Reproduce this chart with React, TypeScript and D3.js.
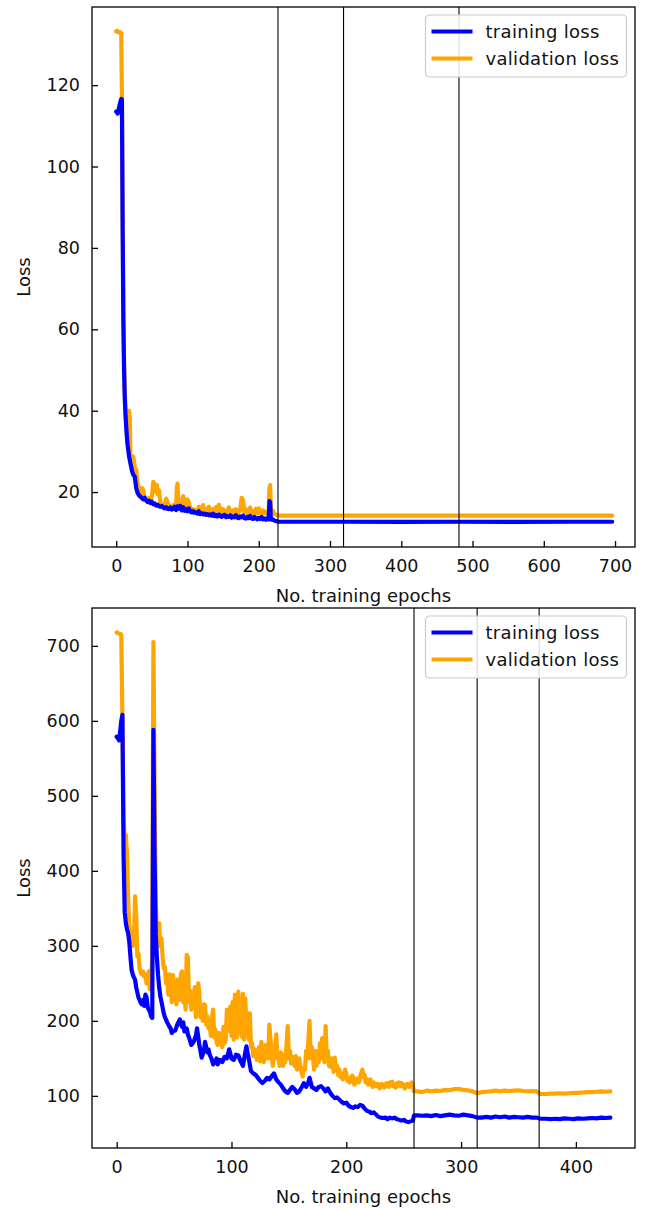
import React, { useRef, useEffect } from 'react';
import * as d3 from 'd3';

type Pt = [number, number];

// [epoch, loss]
const topTrain: Pt[] = [
  [0, 113.5], [1, 113.4], [2, 113.0], [3, 113.6], [4, 114.5], [5, 115.3], [6, 116.0], [7, 116.6], [8, 116.5],
  [9, 85], [10, 62], [11, 50], [12, 43], [13, 39], [14, 36], [15, 33.5], [16, 31.5], [18, 28.8], [20, 27],
  [22, 25.3], [24, 24.2], [26, 23.8], [27, 22.5], [28, 21.0], [30, 19.8], [32, 19.2], [34, 18.9], [36, 18.5],
  [38, 18.2], [40, 18.6], [42, 17.9], [44, 17.6], [46, 17.9], [48, 17.3], [50, 17.6], [52, 17.0], [54, 17.2],
  [56, 16.7], [58, 16.9], [60, 16.5], [62, 16.4], [64, 16.6], [66, 16.2], [68, 16.0], [70, 16.3], [72, 15.9],
  [74, 15.8], [76, 16.2], [78, 15.7], [80, 15.9], [82, 16.4], [84, 15.6], [86, 16.5], [88, 15.9], [90, 16.6],
  [92, 15.5], [94, 16.3], [96, 15.4], [98, 15.8], [100, 15.3], [102, 16.0], [104, 15.2], [106, 15.0], [108, 15.3],
  [110, 14.9], [112, 15.0], [114, 14.7], [116, 15.3], [118, 14.6], [120, 14.8], [122, 14.5], [124, 14.7],
  [126, 14.4], [128, 14.6], [130, 14.3], [132, 14.5], [134, 14.2], [136, 14.7], [138, 14.1], [140, 14.4],
  [142, 14.0], [144, 14.5], [146, 14.1], [148, 13.9], [150, 14.2], [152, 14.4], [154, 13.8], [156, 14.1],
  [158, 13.9], [160, 14.3], [162, 13.7], [164, 14.0], [166, 13.8], [168, 14.3], [170, 13.7], [172, 13.6],
  [174, 14.0], [176, 13.8], [178, 14.2], [180, 13.6], [182, 13.5], [184, 13.9], [186, 13.6], [188, 14.1],
  [190, 13.5], [192, 13.4], [194, 13.9], [196, 13.5], [198, 13.3], [200, 13.7], [202, 13.4], [204, 13.9],
  [206, 13.3], [208, 13.5], [210, 13.2], [212, 13.6], [214, 13.3], [215, 17.8], [216, 17.5], [217, 13.6],
  [218, 13.2], [220, 13.3], [222, 13.0], [224, 12.9], [226, 12.8], [228, 12.7], [260, 12.7], [320, 12.7],
  [400, 12.65], [480, 12.7], [560, 12.65], [640, 12.7], [696, 12.7],
];

const topVal: Pt[] = [
  [0, 133.2], [1, 133.4], [2, 133.1], [3, 133.0], [4, 133.0], [5, 133.1], [6, 132.9], [7, 132.8], [8, 117],
  [9, 90], [10, 65], [11, 52], [12, 45], [13, 40], [14, 37], [15, 34], [16, 32], [17, 34], [18, 40], [19, 38],
  [20, 28], [22, 26.5], [24, 28.7], [26, 25.9], [28, 25.5], [30, 22], [32, 20], [34, 19.5], [36, 21], [38, 20.5],
  [40, 18.5], [42, 18], [44, 17.5], [46, 18.5], [48, 17.2], [50, 19], [52, 22.5], [53, 20.5], [54, 22], [56, 20],
  [57, 21.7], [58, 19.5], [60, 20.5], [62, 17.5], [64, 16.5], [66, 16.2], [68, 17.0], [70, 18.4], [72, 17.5],
  [74, 16.0], [76, 16.5], [78, 16.2], [80, 16.8], [82, 16.0], [84, 16.3], [85, 21.0], [86, 22.1], [87, 18],
  [88, 16.5], [90, 17.2], [92, 16.8], [94, 19], [96, 17.4], [98, 16.5], [100, 18.2], [102, 17.3], [104, 16.0],
  [106, 15.6], [108, 15.8], [110, 15.4], [112, 15.6], [114, 15.2], [116, 16.4], [118, 15.3], [120, 15.5],
  [122, 16.8], [124, 15.0], [126, 15.8], [128, 15.2], [130, 16.4], [132, 15.3], [134, 15.0], [136, 15.8],
  [138, 15.1], [140, 16.3], [142, 15.5], [144, 16.9], [146, 15.6], [148, 15.0], [150, 15.8], [152, 15.4],
  [154, 14.8], [156, 15.3], [158, 16.2], [160, 15.0], [162, 14.7], [164, 15.5], [166, 14.8], [168, 15.8],
  [170, 14.6], [172, 15.1], [174, 15.6], [176, 18.6], [178, 18.0], [180, 15.0], [182, 15.8], [184, 14.7],
  [186, 15.5], [188, 16.2], [190, 14.8], [192, 15.3], [194, 14.6], [196, 15.9], [198, 14.8], [200, 16.0],
  [202, 15.2], [204, 14.6], [206, 15.5], [208, 14.8], [210, 15.1], [212, 14.5], [214, 15.0], [215, 21.0],
  [216, 21.7], [217, 16.0], [218, 15.2], [220, 15.4], [222, 14.6], [224, 14.5], [226, 14.3], [228, 14.2],
  [260, 14.2], [320, 14.2], [400, 14.2], [480, 14.2], [560, 14.2], [640, 14.2], [696, 14.2],
];

// [epoch, loss]
const bottomTrain: Pt[] = [
  [0, 579], [1, 577], [2, 574], [3, 585], [4, 600], [5, 608], [6, 420], [7, 345], [8, 330], [9, 322], [10, 317],
  [11, 305], [12, 285], [13, 268], [14, 262], [15, 258], [16, 255], [17, 245], [18, 238], [19, 231], [20, 228],
  [21, 224], [22, 222], [23, 228], [24, 220], [25, 235], [26, 232], [27, 218], [28, 215], [29, 212], [30, 206],
  [31, 204], [32, 588], [33, 420], [34, 317], [35, 285], [36, 262], [37, 245], [38, 233], [40, 218], [41, 210],
  [42, 205], [44, 198], [45, 195], [46, 192], [47, 190], [48, 184], [49, 186], [51, 187], [53, 196], [55, 202],
  [56, 195], [57, 192], [58, 198], [59, 186], [61, 190], [62, 182], [63, 178], [65, 168], [67, 172], [69, 180],
  [70, 190], [72, 168], [73, 160], [74, 151], [76, 160], [77, 172], [79, 158], [80, 162], [81, 155], [83, 148],
  [84, 142], [86, 146], [87, 150], [88, 142], [90, 148], [92, 145], [94, 152], [96, 150], [98, 162], [100, 150],
  [102, 148], [104, 155], [106, 154], [108, 146], [110, 140], [112, 158], [113, 166], [115, 150], [117, 133],
  [119, 130], [121, 128], [123, 124], [125, 120], [127, 117], [129, 120], [131, 124], [133, 122], [135, 126],
  [137, 130], [139, 122], [141, 118], [143, 115], [145, 110], [147, 106], [149, 104], [151, 108], [153, 112],
  [155, 109], [157, 104], [159, 106], [161, 111], [163, 117], [165, 112], [167, 118], [168, 124], [170, 112],
  [172, 110], [174, 108], [176, 112], [178, 113], [180, 110], [182, 106], [184, 110], [186, 104], [188, 100],
  [190, 97], [192, 98], [194, 95], [196, 92], [198, 90], [200, 91], [202, 87], [204, 85], [206, 84], [208, 86],
  [210, 85], [212, 88], [214, 87], [216, 83], [218, 80], [220, 79], [222, 77], [224, 78], [226, 75], [228, 72],
  [230, 71], [232, 70.5], [234, 71], [236, 69], [238, 71], [240, 70], [242, 71], [244, 69], [246, 68], [248, 67],
  [250, 68], [252, 66], [254, 65], [256, 66], [258, 67], [259, 74], [262, 74], [266, 73.5], [270, 74], [274, 73],
  [278, 74.5], [282, 73], [286, 74], [290, 75], [294, 74], [298, 73.5], [302, 75], [306, 74], [310, 73], [314, 71],
  [318, 71], [322, 72], [326, 71], [330, 72.5], [334, 71.5], [338, 72.5], [342, 71], [346, 72], [350, 71.5],
  [354, 71], [358, 72], [362, 71], [366, 71], [369, 69.5], [374, 69.5], [378, 69], [382, 69.5], [386, 69],
  [390, 70], [394, 69.5], [398, 69], [402, 70], [406, 69.5], [410, 70], [414, 70.5], [418, 70], [422, 71],
  [426, 70.5], [430, 71],
];

// validation loss of the second run, one value per epoch from epoch 0 to 258
const bottomValEarly = [
  718, 717, 716.5, 716, 715, 600, 470, 445, 448, 420, 360, 330, 315, 305, 300, 304, 366, 340, 286, 290,
  270, 264, 262, 266, 259, 262, 250, 256, 266, 242, 250, 290, 705, 520, 360, 320, 305, 330, 299, 310,
  285, 270, 272, 250, 258, 235, 262, 248, 225, 261, 232, 240, 222, 255, 245, 228, 262, 266, 225, 238,
  215, 288, 285, 225, 240, 215, 235, 225, 245, 205, 215, 250, 238, 205, 210, 200, 222, 221, 195, 206,
  190, 196, 180, 205, 215, 178, 188, 172, 168, 184, 170, 178, 165, 192, 170, 175, 215, 187, 205, 219,
  180, 225, 175, 235, 210, 178, 239, 185, 200, 179, 236, 175, 230, 190, 210, 175, 210, 165, 170, 153,
  162, 160, 148, 150, 165, 146, 172, 155, 145, 150, 168, 160, 150, 195, 175, 155, 140, 152, 165, 182,
  150, 150, 140, 158, 148, 140, 155, 145, 170, 193, 150, 160, 143, 152, 150, 140, 153, 135, 145, 150,
  140, 132, 126, 138, 135, 160, 150, 175, 200, 150, 165, 150, 135, 160, 140, 155, 145, 170, 150, 177,
  165, 145, 193, 150, 160, 140, 139, 150, 145, 132, 151, 135, 140, 128, 135, 125, 130, 122, 126, 135,
  130, 120, 124, 118, 122, 127, 125, 115, 117, 123, 120, 118, 125, 130, 135, 125, 128, 118, 122, 115,
  119, 122, 116, 112, 118, 115, 113, 116, 115, 110, 112, 116, 114, 111, 113, 117, 115, 112, 118, 114,
  119, 113, 115, 111, 117, 114, 118, 113, 117, 116, 114, 110, 112, 116, 115, 112, 116, 118, 113,
];

const bottomValLate: Pt[] = [
  [259, 106], [262, 106], [266, 105], [270, 107], [274, 106], [278, 107], [282, 106.5], [286, 108], [290, 107.5],
  [294, 109], [298, 109], [302, 108], [306, 107.5], [310, 106], [314, 103.5], [318, 105], [322, 105.5], [326, 106],
  [330, 107], [334, 106], [338, 107], [342, 106.5], [346, 107], [350, 107.5], [354, 106.5], [358, 106],
  [362, 106.5], [366, 106], [369, 102.5], [374, 102.5], [378, 103], [382, 103], [386, 103.5], [390, 103],
  [394, 103.5], [398, 104], [402, 104], [406, 104.5], [410, 105], [414, 105], [418, 105.5], [422, 106],
  [426, 105.5], [430, 106],
];

const bottomVal: Pt[] = [...bottomValEarly.map((v, i) => [i, v] as Pt), ...bottomValLate];

const topMarkers = [227, 319, 481];
const bottomMarkers = [259, 314, 368];

const topXTicks = [0, 100, 200, 300, 400, 500, 600, 700];
const topYTicks = [20, 40, 60, 80, 100, 120];
const bottomXTicks = [0, 100, 200, 300, 400];
const bottomYTicks = [100, 200, 300, 400, 500, 600, 700];

const seriesNames = ['training loss', 'validation loss'];
const colors = ['#0000ff', '#ffa500'];

const W = 646;
const H = 1209;
const FONT = 'DejaVu Sans';

const panels = [
  { top: 7, train: topTrain, val: topVal, markers: topMarkers, xd: [-34, 728], yd: [6.5, 139.2], xt: topXTicks, yt: topYTicks },
  { top: 608, train: bottomTrain, val: bottomVal, markers: bottomMarkers, xd: [-21.5, 451.5], yd: [30.5, 750.5], xt: bottomXTicks, yt: bottomYTicks },
];

const App = () => {
  const svgRef = useRef<SVGSVGElement>(null);

  useEffect(() => {
    const svg = d3.select(svgRef.current);
    svg.selectAll('*').remove();

    const left = 92;
    const w = 543;
    const h = 540;

    panels.forEach((p) => {
      const g = svg.append('g').attr('transform', `translate(${left},${p.top})`);
      const x = d3.scaleLinear().domain(p.xd).range([0, w]);
      const y = d3.scaleLinear().domain(p.yd).range([h, 0]);

      const line = d3.line<Pt>().x(d => x(d[0])).y(d => y(d[1]));

      // validation first so training sits on top
      [p.val, p.train].forEach((data, i) => {
        g.append('path')
          .datum(data)
          .attr('d', line)
          .attr('fill', 'none')
          .attr('stroke', i === 0 ? colors[1] : colors[0])
          .attr('stroke-width', 4.2)
          .attr('stroke-linejoin', 'round')
          .attr('stroke-linecap', 'round');
      });

      g.selectAll('line.marker')
        .data(p.markers)
        .join('line')
        .attr('class', 'marker')
        .attr('x1', d => x(d))
        .attr('x2', d => x(d))
        .attr('y1', 0)
        .attr('y2', h)
        .attr('stroke', '#000')
        .attr('stroke-width', 1.1);

      const xAxis = g.append('g')
        .attr('transform', `translate(0,${h})`)
        .call(d3.axisBottom(x).tickValues(p.xt).tickSizeInner(-6).tickSizeOuter(0).tickPadding(13));
      const yAxis = g.append('g')
        .call(d3.axisLeft(y).tickValues(p.yt).tickSizeInner(-6).tickSizeOuter(0).tickPadding(12));
      [xAxis, yAxis].forEach(a => {
        a.select('.domain').remove();
        a.selectAll('line').attr('stroke', '#000').attr('stroke-width', 1.3);
        a.selectAll('text').attr('font-family', FONT).attr('font-size', 17.5).attr('fill', '#111');
      });

      g.append('rect')
        .attr('width', w)
        .attr('height', h)
        .attr('fill', 'none')
        .attr('stroke', '#000')
        .attr('stroke-width', 1.3);

      g.append('text')
        .attr('x', w / 2)
        .attr('y', h + 55)
        .attr('text-anchor', 'middle')
        .attr('font-family', FONT)
        .attr('font-size', 18)
        .attr('fill', '#111')
        .text('No. training epochs');

      g.append('text')
        .attr('transform', `translate(${30 - left},${h / 2}) rotate(-90)`)
        .attr('text-anchor', 'middle')
        .attr('font-family', FONT)
        .attr('font-size', 18)
        .attr('fill', '#111')
        .text('Loss');

      // legend
      const lg = g.append('g').attr('transform', `translate(${w - 8.5 - 201},8)`);
      lg.append('rect')
        .attr('width', 201)
        .attr('height', 62)
        .attr('rx', 4)
        .attr('fill', '#fff')
        .attr('fill-opacity', 0.85)
        .attr('stroke', '#cccccc')
        .attr('stroke-width', 1.2);
      seriesNames.forEach((name, i) => {
        const ly = 16.5 + i * 27;
        lg.append('line')
          .attr('x1', 6).attr('x2', 47)
          .attr('y1', ly).attr('y2', ly)
          .attr('stroke', colors[i])
          .attr('stroke-width', 3.8);
        lg.append('text')
          .attr('x', 60)
          .attr('y', ly)
          .attr('dy', '0.35em')
          .attr('font-family', FONT)
          .attr('font-size', 18)
          .attr('letter-spacing', 0.3)
          .attr('fill', '#111')
          .text(name);
      });
    });
  }, []);

  return (
    <svg
      ref={svgRef}
      width={W}
      height={H}
      style={{ position: 'absolute', left: 0, top: 0, background: '#fff' }}
    />
  );
};

export default App;
